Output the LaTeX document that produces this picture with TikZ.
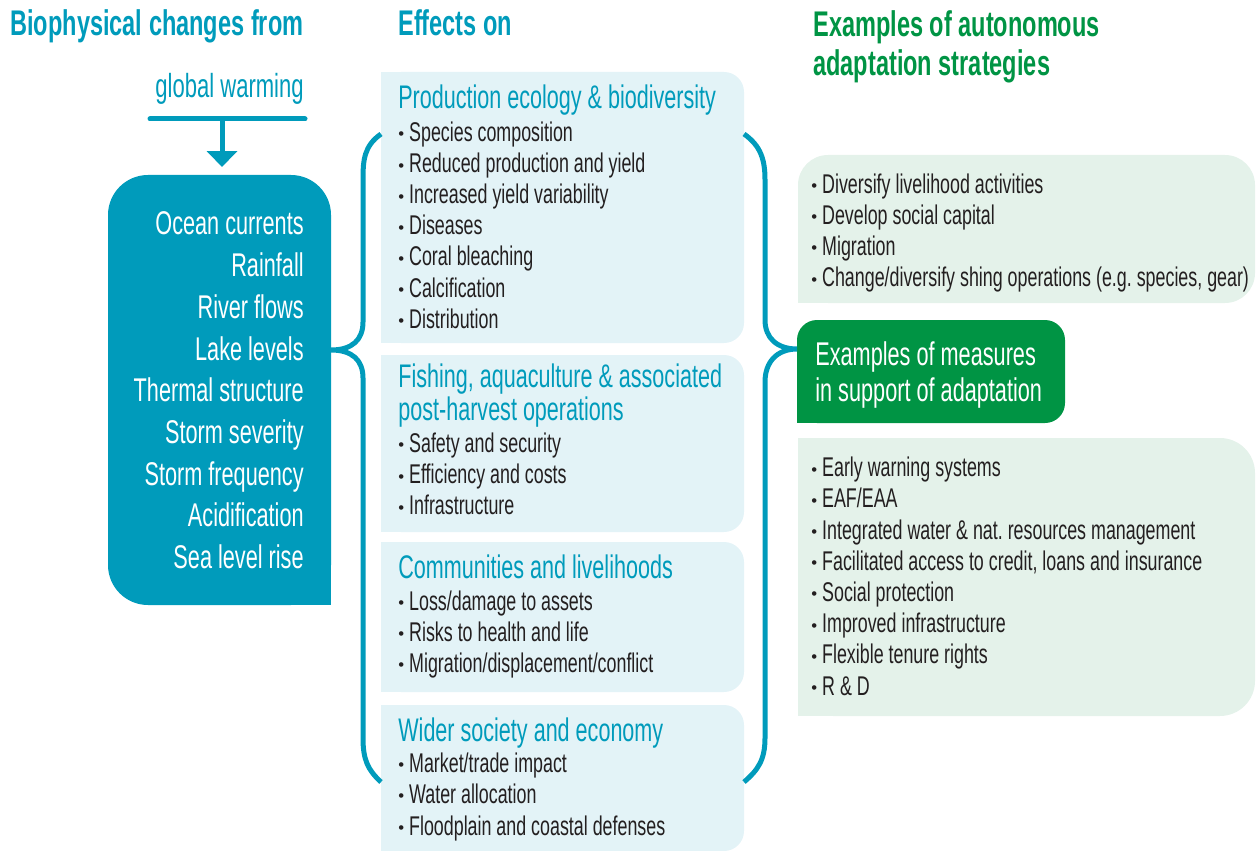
\documentclass[tikz,border=0pt]{standalone}
\usepackage{fontspec}
\setmainfont{Liberation Sans}[FakeStretch=0.66]
\newfontfamily\bulletfont{Liberation Sans}
\usetikzlibrary{arrows.meta}
\usetikzlibrary{positioning}
\definecolor{fishblue}{RGB}{0,155,187}
\definecolor{paleblue}{RGB}{227,243,247}
\definecolor{palegreen}{RGB}{228,242,234}
\definecolor{fishgreen}{RGB}{0,148,68}
\definecolor{inkblack}{RGB}{35,31,32}
\tikzset{
% Text styles: headings, box titles, bullet items, changes
head text/.style={anchor=base west,inner sep=0,font=\fontsize{20.3}{24}\selectfont\bfseries},
title text/.style={anchor=base west,inner sep=0,font=\fontsize{18.6}{22}\selectfont,text=fishblue},
item text/.style={anchor=base west,inner sep=0,font=\fontsize{15.4}{18}\selectfont,text=inkblack},
change text/.style={anchor=base east,inner sep=0,font=\fontsize{18.7}{22}\selectfont,text=white}
}
\newcommand{\dotitem}[1]{\raisebox{0.9pt}{\bulletfont\fontsize{9.5}{9.5}\selectfont\textbullet}\ #1}
\frenchspacing

\begin{document}
\begin{tikzpicture}[x=0.02cm,y=-0.02cm]
		\useasboundingbox (0,0) rectangle (1257,851);
		% Line style for the two braces
		\tikzstyle{bracket}=[draw=fishblue,line width=0.1cm];
		% Headings
		\node[head text,text=fishblue] (h-changes) at (10,36) {Biophysical changes from};
		\node[head text,text=fishblue] (h-effects) at (398,36) {Effects on};
		\node[head text,text=fishgreen] (h-auto) at (813,37) {Examples of autonomous};
		\node[head text,text=fishgreen] (h-auto2) at (813,76) {adaptation strategies};
		% Global warming and arrow
		\node[title text,anchor=base east,font=\fontsize{19}{22}\selectfont] (gw) at (304,98) {global warming};
		\coordinate (gw-l) at (150,119);
		\coordinate (gw-r) at (305,119);
		\coordinate (gw-bar) at (222,119);
		\coordinate (changes-top) at (222,167);
		\draw[fishblue,line width=0.1cm,line cap=round] (gw-l) -- (gw-r);
		\draw[fishblue,line width=0.1cm,-{Triangle[width=0.6cm,length=0.32cm]}] (gw-bar) -- (changes-top);
		% Biophysical changes box
		\fill[fishblue,rounded corners=0.8cm] (108,175) rectangle (331,605);
		\fill[fishblue] (290,560) rectangle (331,605);
		\foreach \txt [count=\i] in {Ocean currents,Rainfall,River flows,Lake levels,Thermal structure,Storm severity,Storm frequency,Acidification,Sea level rise}
		\node[change text] (change-\i) at (304,{235+41.67*(\i-1)}) {\txt};
		% Effects boxes
		\fill[paleblue,rounded corners=0.4cm] (381,72) rectangle (744,343);
		\fill[paleblue] (381,72) rectangle (420,343);
		\fill[paleblue,rounded corners=0.4cm] (381,355) rectangle (744,532);
		\fill[paleblue] (381,355) rectangle (420,532);
		\fill[paleblue,rounded corners=0.4cm] (381,542) rectangle (744,692);
		\fill[paleblue] (381,542) rectangle (420,692);
		\fill[paleblue,rounded corners=0.4cm] (381,705) rectangle (744,851);
		\fill[paleblue] (381,705) rectangle (420,851);
		% Production ecology
		\node[title text] (prod) at (398,108.5) {Production ecology \& biodiversity};
		\foreach \txt [count=\i] in {Species composition,Reduced production and yield,Increased yield variability,Diseases,Coral bleaching,Calcification,Distribution}
		\node[item text] (prod-\i) at (398,{141.5+31.1*(\i-1)}) {\dotitem{\txt}};
		% Fishing and aquaculture
		\node[title text] (fish) at (398,387) {Fishing, aquaculture \& associated};
		\node[title text] (fish2) at (398,420) {post-harvest operations};
		\foreach \txt [count=\i] in {Safety and security,Efficiency and costs,Infrastructure}
		\node[item text] (fish-\i) at (398,{452.5+31.2*(\i-1)}) {\dotitem{\txt}};
		% Communities
		\node[title text] (comm) at (398,578) {Communities and livelihoods};
		\foreach \txt [count=\i] in {Loss/damage to assets,Risks to health and life,Migration/displacement/conflict}
		\node[item text] (comm-\i) at (398,{610+31*(\i-1)}) {\dotitem{\txt}};
		% Wider society
		\node[title text] (wide) at (398,741.5) {Wider society and economy};
		\foreach \txt [count=\i] in {Market/trade impact,Water allocation,Floodplain and coastal defenses}
		\node[item text] (wide-\i) at (398,{772+31.5*(\i-1)}) {\dotitem{\txt}};
		% Autonomous adaptation box
		\fill[palegreen,rounded corners=0.6cm] (798,155) rectangle (1255,303);
		\fill[palegreen] (798,260) rectangle (840,303);
		\foreach \txt [count=\i] in {Diversify livelihood activities,Develop social capital,Migration,{Change/diversify shing operations (e.g. species, gear)}}
		\node[item text] (auto-\i) at (811,{193.3+31.1*(\i-1)}) {\dotitem{\txt}};
		% Measures box
		\fill[fishgreen,rounded corners=0.4cm] (797,320) rectangle (1065,423);
		\fill[fishgreen] (797,395) rectangle (830,423);
		\node[title text,text=white,font=\fontsize{18.7}{22}\selectfont] (meas) at (815,365) {Examples of measures};
		\node[title text,text=white,font=\fontsize{18.7}{22}\selectfont] (meas2) at (815,401.5) {in support of adaptation};
		% Support measures box
		\fill[palegreen,rounded corners=0.7cm] (798,438) rectangle (1255,716);
		\fill[palegreen] (798,438) rectangle (840,716);
		\foreach \txt [count=\i] in {Early warning systems,EAF/EAA,Integrated water \& nat. resources management,{Facilitated access to credit, loans and insurance},Social protection,Improved infrastructure,Flexible tenure rights,R \& D}
		\node[item text] (sup-\i) at (811,{476.7+31.2*(\i-1)}) {\dotitem{\txt}};
		% Braces
		\coordinate (lb-top) at (381,134);
		\coordinate (lb-tip) at (331,350);
		\coordinate (lb-bot) at (381,782);
		\draw[bracket] (lb-top) .. controls (364,146) and (363,160) .. (363,180) -- (363,322)
			.. controls (363,340) and (352,350) .. (lb-tip)
			.. controls (352,350) and (363,360) .. (363,378) -- (363,738)
			.. controls (363,760) and (368,770) .. (lb-bot);
		\coordinate (rb-top) at (744,134);
		\coordinate (rb-tip) at (797,349);
		\coordinate (rb-bot) at (744,782);
		\draw[bracket] (rb-top) .. controls (761,146) and (765,160) .. (765,180) -- (765,320)
			.. controls (765,338) and (777,349) .. (rb-tip)
			.. controls (777,349) and (765,362) .. (765,382) -- (765,738)
			.. controls (765,760) and (758,770) .. (rb-bot);
	\end{tikzpicture}
\end{document}
